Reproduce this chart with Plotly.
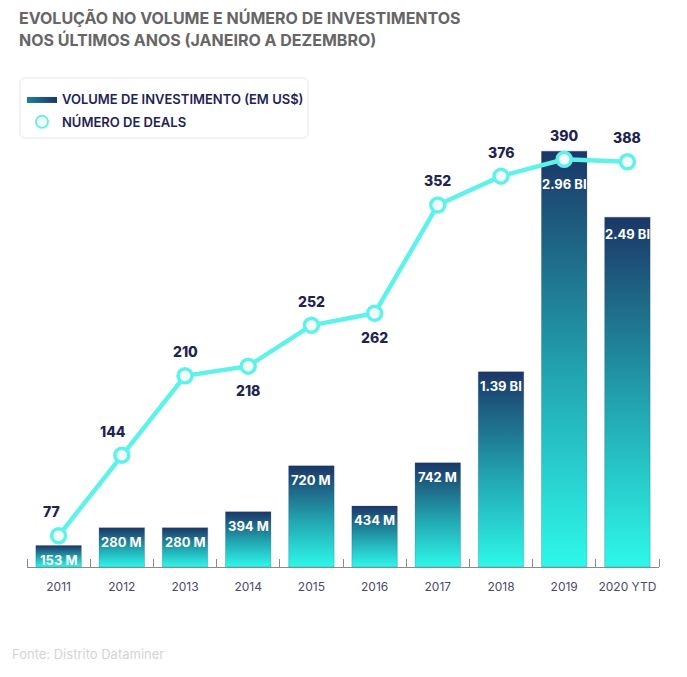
import plotly.graph_objects as go

# ---- data ----
years = ["2011", "2012", "2013", "2014", "2015", "2016", "2017", "2018", "2019", "2020 YTD"]
volume_musd = [153, 280, 280, 394, 720, 434, 742, 1390, 2960, 2490]
volume_labels = ["153 M", "280 M", "280 M", "394 M", "720 M", "434 M", "742 M", "1.39 BI", "2.96 BI", "2.49 BI"]
deals = [77, 144, 210, 218, 252, 262, 352, 376, 390, 388]

# ---- style ----
label_side = ["above", "above", "above", "below", "above", "below", "above", "above", "above", "above"]
label_dx = [-7, -9, 0, 0, 0, 0, 0, 0, 0, 0]
bar_label_dy = [-4, -4, -4, -4, -4, -4, -4, -4, -23, -7]
NAVY = "#1e2452"
CYAN = "#5ff2ea"
bar_scale = [[0, "#2ef8ea"], [0.45, "#22a7b2"], [1, "#1b3767"]]
FONT = "Inter"

# page has an 8px body margin: lay out in page pixels and convert
OFF = 8
W, H = 687 - OFF, 677 - OFF
L, R, T, B = 27 - OFF, 28, 100 - OFF, 110
PW, PH = W - L - R, H - T - B


def px(xp):
    return (xp - OFF - L) / PW


def py(yp):
    return (H - B - (yp - OFF)) / PH


BAR_W = 0.72
xs = list(range(len(years)))

fig = go.Figure()

# gradient bars (filled rectangles on the primary y axis)
for i, v in enumerate(volume_musd):
    x0, x1 = i - BAR_W / 2, i + BAR_W / 2
    fig.add_trace(go.Scatter(
        x=[x0, x1, x1, x0, x0], y=[0, 0, v, v, 0],
        mode="lines", line=dict(width=0.6, color="rgba(27,55,103,0.35)"),
        fill="toself",
        fillgradient=dict(type="vertical", colorscale=bar_scale, start=0, stop=v),
        hoverinfo="skip", showlegend=False,
    ))
    fig.add_annotation(
        x=i, y=v, text=volume_labels[i], showarrow=False,
        yanchor="top", yshift=bar_label_dy[i], xref="x", yref="y",
        font=dict(family=FONT, size=13, color="white", weight=700),
    )

# deals line on secondary axis
fig.add_trace(go.Scatter(
    x=xs, y=deals, yaxis="y2", mode="lines+markers",
    line=dict(color=CYAN, width=4.5),
    marker=dict(size=14, color="#f4fbfb", line=dict(color=CYAN, width=3.5)),
    showlegend=False, hoverinfo="skip",
))
for i, d in enumerate(deals):
    above = label_side[i] == "above"
    fig.add_annotation(
        x=i, y=d, xref="x", yref="y2", text=str(d), showarrow=False,
        yshift=24 if above else -24, xshift=label_dx[i],
        font=dict(family=FONT, size=14, color=NAVY, weight=800),
    )

# legend-only entries
fig.add_trace(go.Scatter(
    x=[None, None, None, None, None], y=[None, None, None, None, None],
    mode="lines", fill="toself",
    fillgradient=dict(type="horizontal", colorscale=[[0, "#1f7f97"], [1, "#1b3767"]]),
    line=dict(width=0, color="#1d5a80"),
    name="VOLUME DE INVESTIMENTO (EM US$)", showlegend=True, legendgroup="vol",
))
fig.add_trace(go.Scatter(
    x=[None], y=[None], mode="markers",
    marker=dict(size=18, color="#f4fbfb", line=dict(color=CYAN, width=4)),
    name="NÚMERO DE DEALS", showlegend=True, legendgroup="deals",
))

# rounded legend box
x0, x1, y0, y1 = px(20), px(308), py(138), py(78)
rx, ry = 6 / PW, 6 / PH
fig.add_shape(
    type="path", xref="paper", yref="paper", layer="below",
    path=(f"M {x0+rx} {y1} L {x1-rx} {y1} Q {x1} {y1} {x1} {y1-ry} L {x1} {y0+ry} "
          f"Q {x1} {y0} {x1-rx} {y0} L {x0+rx} {y0} Q {x0} {y0} {x0} {y0+ry} "
          f"L {x0} {y1-ry} Q {x0} {y1} {x0+rx} {y1} Z"),
    line=dict(color="#e6e6e6", width=1), fillcolor="white",
)

# title (two lines)
for txt, yc in [("EVOLUÇÃO NO VOLUME E NÚMERO DE INVESTIMENTOS", 18),
                ("NOS ÚLTIMOS ANOS (JANEIRO A DEZEMBRO)", 40)]:
    fig.add_annotation(
        xref="paper", yref="paper", x=px(17), y=py(yc), xanchor="left", yanchor="middle",
        text=txt, showarrow=False,
        font=dict(family=FONT, size=16, color="#666666", weight=700),
    )

# source
fig.add_annotation(
    xref="paper", yref="paper", x=px(10), y=py(654), xanchor="left", yanchor="middle",
    text="Fonte: Distrito Dataminer", showarrow=False,
    font=dict(family=FONT, size=13, color="#d4d4d4"),
)

fig.update_layout(
    width=W, height=H,
    margin=dict(l=L, r=R, t=T, b=B, autoexpand=False),
    paper_bgcolor="white", plot_bgcolor="white",
    xaxis=dict(
        range=[-0.5, len(years) - 0.5], tickvals=xs, ticktext=years,
        showgrid=False, zeroline=False, showline=True, linecolor="#8a8a8a", linewidth=1.2,
        ticks="", tickfont=dict(family=FONT, size=12, color="#4a4a6a"),
        ticklabelstandoff=8,
        minor=dict(ticks="inside", tick0=-0.5, dtick=1, ticklen=8, tickcolor="#8a8a8a", tickwidth=1.2),
        fixedrange=True,
    ),
    yaxis=dict(range=[0, 3324], visible=False, showgrid=False, zeroline=False),
    yaxis2=dict(range=[51.0, 439.3], overlaying="y", side="right", visible=False,
                showgrid=False, zeroline=False),
    legend=dict(
        x=px(22), y=py(84), xanchor="left", yanchor="top",
        bgcolor="rgba(0,0,0,0)", borderwidth=0,
        font=dict(family=FONT, size=13, color=NAVY, weight=600),
        itemsizing="constant", tracegroupgap=3,
    ),
    showlegend=True,
)

fig.write_html("out.html")
